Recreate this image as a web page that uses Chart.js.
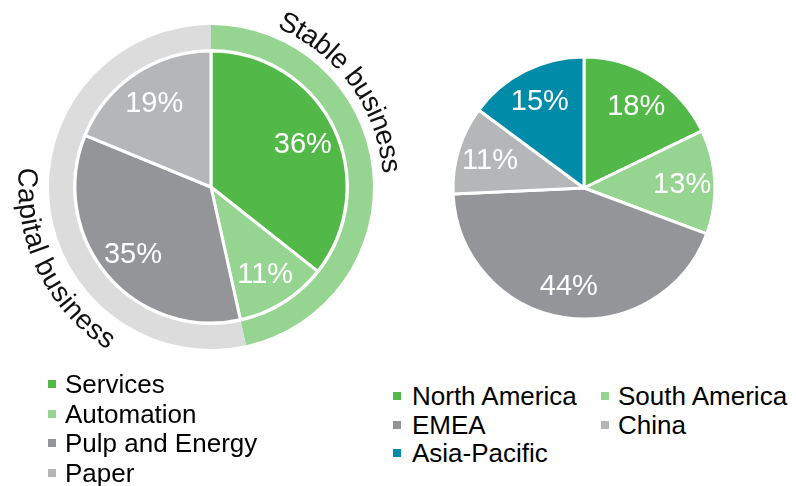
<!DOCTYPE html>
<html><head><meta charset="utf-8">
<script src="https://cdn.jsdelivr.net/npm/chart.js@4"></script>
<style>
html,body{margin:0;padding:0;background:#fff;width:796px;height:486px;overflow:hidden;font-family:"Liberation Sans",Arial,sans-serif;}
#w1{position:absolute;left:0;top:0;width:422px;height:374px;}
#w2{position:absolute;left:424px;top:28px;width:320px;height:320px;}
.item{position:absolute;font-size:26px;line-height:29px;color:#000;white-space:nowrap;}
.sq{position:absolute;width:8px;height:8px;}
</style></head>
<body>
<div id="w1"><canvas id="c1"></canvas></div>
<div id="w2"><canvas id="c2"></canvas></div>
<div id="legends"></div>
<script>
// ---- data ----
const segmentLabels = ['Services', 'Automation', 'Pulp and Energy', 'Paper'];
const segmentValues = [36, 11, 35, 19];
const ringLabels = ['Stable business', 'Capital business'];
const ringValues = [47, 54];
const regionLabels = ['North America', 'South America', 'EMEA', 'China', 'Asia-Pacific'];
const regionValues = [18, 13, 44, 11, 15];

// ---- styles ----
const GREEN = '#52b848', LGREEN = '#96d591', GRAY = '#939598', LGRAY = '#b5b6b8', RING_GRAY = '#dcdcdc', TEAL = '#008ba9';
const segmentColors = [GREEN, LGREEN, GRAY, LGRAY];
const ringColors = [LGREEN, RING_GRAY];
const regionColors = [GREEN, LGREEN, GRAY, LGRAY, TEAL];
const FONT = '"Liberation Sans", Arial, sans-serif';

const pctLabels = {
  id: 'pctLabels',
  afterDatasetsDraw(chart) {
    const ctx = chart.ctx;
    chart.data.datasets.forEach((ds, di) => {
      if (!ds.pctLabels) return;
      const meta = chart.getDatasetMeta(di);
      meta.data.forEach((arc, i) => {
        const p = arc.getProps(['x', 'y', 'startAngle', 'endAngle', 'outerRadius'], true);
        const mid = (p.startAngle + p.endAngle) / 2;
        const r = p.outerRadius * 0.75;
        ctx.save();
        ctx.font = '29px ' + FONT;
        ctx.fillStyle = '#fff';
        ctx.textAlign = 'center';
        ctx.textBaseline = 'middle';
        ctx.fillText(ds.data[i] + '%', p.x + r * Math.cos(mid), p.y + r * Math.sin(mid) + 2);
        ctx.restore();
      });
    });
  }
};

function arcText(ctx, text, cx, cy, r, startDeg, dir) {
  let a = startDeg * Math.PI / 180;
  for (const ch of text) {
    const w = ctx.measureText(ch).width;
    const half = (w / 2) / r;
    a += dir * half;
    ctx.save();
    ctx.translate(cx + r * Math.sin(a), cy - r * Math.cos(a));
    ctx.rotate(dir > 0 ? a : a + Math.PI);
    ctx.fillText(ch, 0, 0);
    ctx.restore();
    a += dir * half;
  }
}

const ringText = {
  id: 'ringText',
  afterDatasetsDraw(chart) {
    const ctx = chart.ctx;
    const arc = chart.getDatasetMeta(0).data[0];
    const cx = arc.x, cy = arc.y;
    ctx.save();
    ctx.font = '28px ' + FONT;
    ctx.fillStyle = '#111';
    ctx.textAlign = 'center';
    ctx.textBaseline = 'middle';
    arcText(ctx, ringLabels[0], cx, cy, 180, 22.5, 1);
    arcText(ctx, ringLabels[1], cx, cy, 185, 276, -1);
    ctx.restore();
  }
};

const common = {
  responsive: true,
  maintainAspectRatio: false,
  animation: false,
  events: [],
  layout: { padding: 0 },
  plugins: { legend: { display: false }, tooltip: { enabled: false } }
};

new Chart(document.getElementById('c1'), {
  type: 'pie',
  data: {
    labels: segmentLabels,
    datasets: [
      { data: ringValues, backgroundColor: ringColors, borderWidth: 0, weight: 24 },
      { data: [1], backgroundColor: ['#ffffff'], borderWidth: 0, weight: 2 },
      { data: segmentValues, backgroundColor: segmentColors, borderColor: '#ffffff', borderWidth: 3, weight: 136, pctLabels: true }
    ]
  },
  options: Object.assign({}, common, { radius: 162 }),
  plugins: [pctLabels, ringText]
});

new Chart(document.getElementById('c2'), {
  type: 'pie',
  data: {
    labels: regionLabels,
    datasets: [
      { data: regionValues, backgroundColor: regionColors, borderColor: '#ffffff', borderWidth: 3, pctLabels: true }
    ]
  },
  options: Object.assign({}, common, { radius: 131 }),
  plugins: [pctLabels]
});

// ---- legends (HTML) ----
const legends = document.getElementById('legends');
function addItem(label, color, textX, top, sqX) {
  const d = document.createElement('div');
  d.className = 'item';
  d.style.left = textX + 'px';
  d.style.top = top + 'px';
  d.textContent = label;
  legends.appendChild(d);
  const s = document.createElement('div');
  s.className = 'sq';
  s.style.left = sqX + 'px';
  s.style.top = (top + 10) + 'px';
  s.style.background = color;
  legends.appendChild(s);
}
segmentLabels.forEach((l, i) => addItem(l, segmentColors[i], 65, 370 + i * 29.7, 48));
regionLabels.forEach((l, i) => {
  const col = i % 2, row = Math.floor(i / 2);
  addItem(l, regionColors[i], col ? 618 : 412, 382 + row * 28.5, col ? 601 : 393);
});
</script>
</body></html>
